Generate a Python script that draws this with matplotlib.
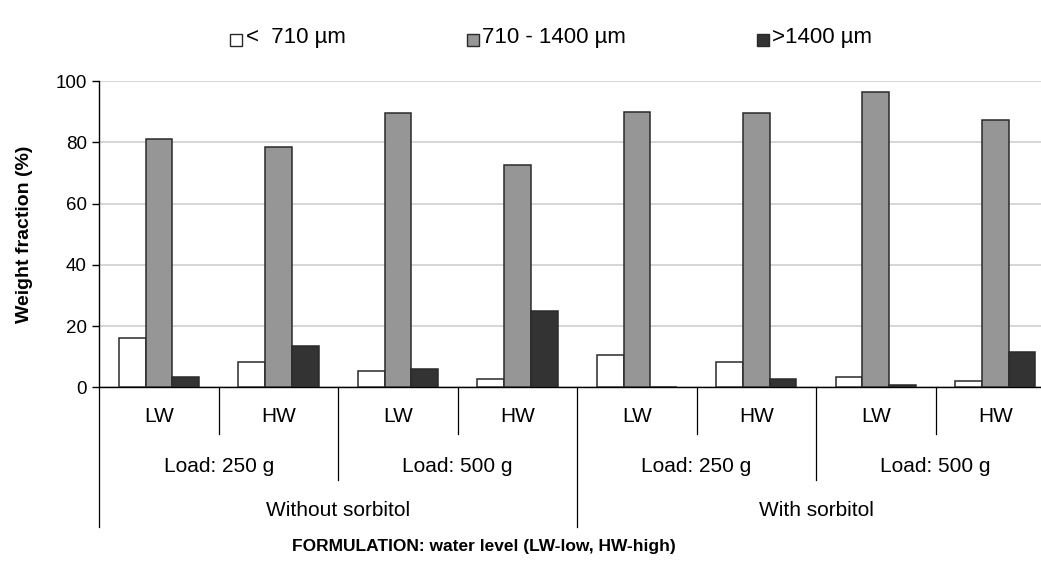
import matplotlib
matplotlib.use("Agg")
import matplotlib.pyplot as plt
import numpy as np
from matplotlib.patches import Rectangle

plt.rcParams['font.family'] = ['Liberation Sans', 'DejaVu Sans']

water = ["LW", "HW", "LW", "HW", "LW", "HW", "LW", "HW"]
loads = ["Load: 250 g", "Load: 500 g", "Load: 250 g", "Load: 500 g"]
sorbitol = ["Without sorbitol", "With sorbitol"]
series_names = ["<  710 µm", "710 - 1400 µm", ">1400 µm"]
fine = [16.2, 8.4, 5.2, 2.7, 10.4, 8.4, 3.5, 2.1]
medium = [81.0, 78.4, 89.4, 72.7, 90.0, 89.4, 96.4, 87.4]
coarse = [3.4, 13.5, 5.9, 25.0, 0.0, 2.7, 0.75, 11.6]

colors = ["#ffffff", "#969696", "#333333"]
W, H = 1041, 581
fig = plt.figure(figsize=(W / 100, H / 100), dpi=100)
ax_left, ax_right = 99.3 / W, 1055 / W
ax_bot, ax_top = (H - 387.3) / H, (H - 81) / H
ax = fig.add_axes([ax_left, ax_bot, ax_right - ax_left, ax_top - ax_bot])

x = np.arange(len(water))
bw = 0.224
for i, (vals, c) in enumerate(zip([fine, medium, coarse], colors)):
    ax.bar(x + (i - 1) * bw, vals, width=bw, color=c, edgecolor="#2a2a2a",
           linewidth=1.1, zorder=3)

ax.set_xlim(-0.5, len(water) - 0.5)
ax.set_ylim(0, 100)
ax.set_yticks(np.arange(0, 101, 20))
ax.tick_params(axis='y', labelsize=13.5, length=5, width=1, direction='out', pad=4)
ax.yaxis.grid(True, color="#d0d0d0", linewidth=1.2, zorder=0)
ax.set_axisbelow(True)
for s in ["top", "right"]:
    ax.spines[s].set_visible(False)
ax.spines["left"].set_linewidth(1)
ax.spines["bottom"].set_linewidth(1)
ax.set_xticks([])

trans = ax.get_xaxis_transform()
axh = 387.3 - 81
def ay(py):
    return (387.3 - py) / axh

for b in np.arange(0.5, len(water) - 0.5, 2):
    ax.plot([b, b], [0, ay(434)], transform=trans, color="black", lw=0.9, clip_on=False)
for b in [1.5, 5.5]:
    ax.plot([b, b], [0, ay(480)], transform=trans, color="black", lw=0.9, clip_on=False)
for b in [-0.5, 3.5, 7.5]:
    ax.plot([b, b], [0, ay(527)], transform=trans, color="black", lw=0.9, clip_on=False)

fs = 15
for xi, lab in zip(x, water):
    ax.text(xi, ay(417), lab, transform=trans, ha="center", va="center", fontsize=fs)
for k, lab in enumerate(loads):
    ax.text(2 * k + 0.5, ay(466), lab, transform=trans, ha="center", va="center", fontsize=fs)
for k, lab in enumerate(sorbitol):
    ax.text(4 * k + 1.5, ay(510), lab, transform=trans, ha="center", va="center", fontsize=fs)

fig.text(25 / W, (H - 234) / H, "Weight fraction (%)", rotation=90, ha="center",
         va="center", fontsize=14, fontweight="bold")
fig.text(484 / W, (H - 547) / H, "FORMULATION: water level (LW-low, HW-high)",
         ha="center", va="center", fontsize=12.5, fontweight="bold")

# legend
sq_x = [230, 467, 757]
txt_x = [246, 482, 772]
for sx, tx, c, name in zip(sq_x, txt_x, colors, series_names):
    fig.patches.append(Rectangle((sx / W, (H - 46) / H), 12 / W, 12 / H,
                                 transform=fig.transFigure, facecolor=c,
                                 edgecolor="#2a2a2a", linewidth=1))
    fig.text(tx / W, (H - 38) / H, name, ha="left", va="center", fontsize=16)

fig.savefig("out.png", dpi=100)
